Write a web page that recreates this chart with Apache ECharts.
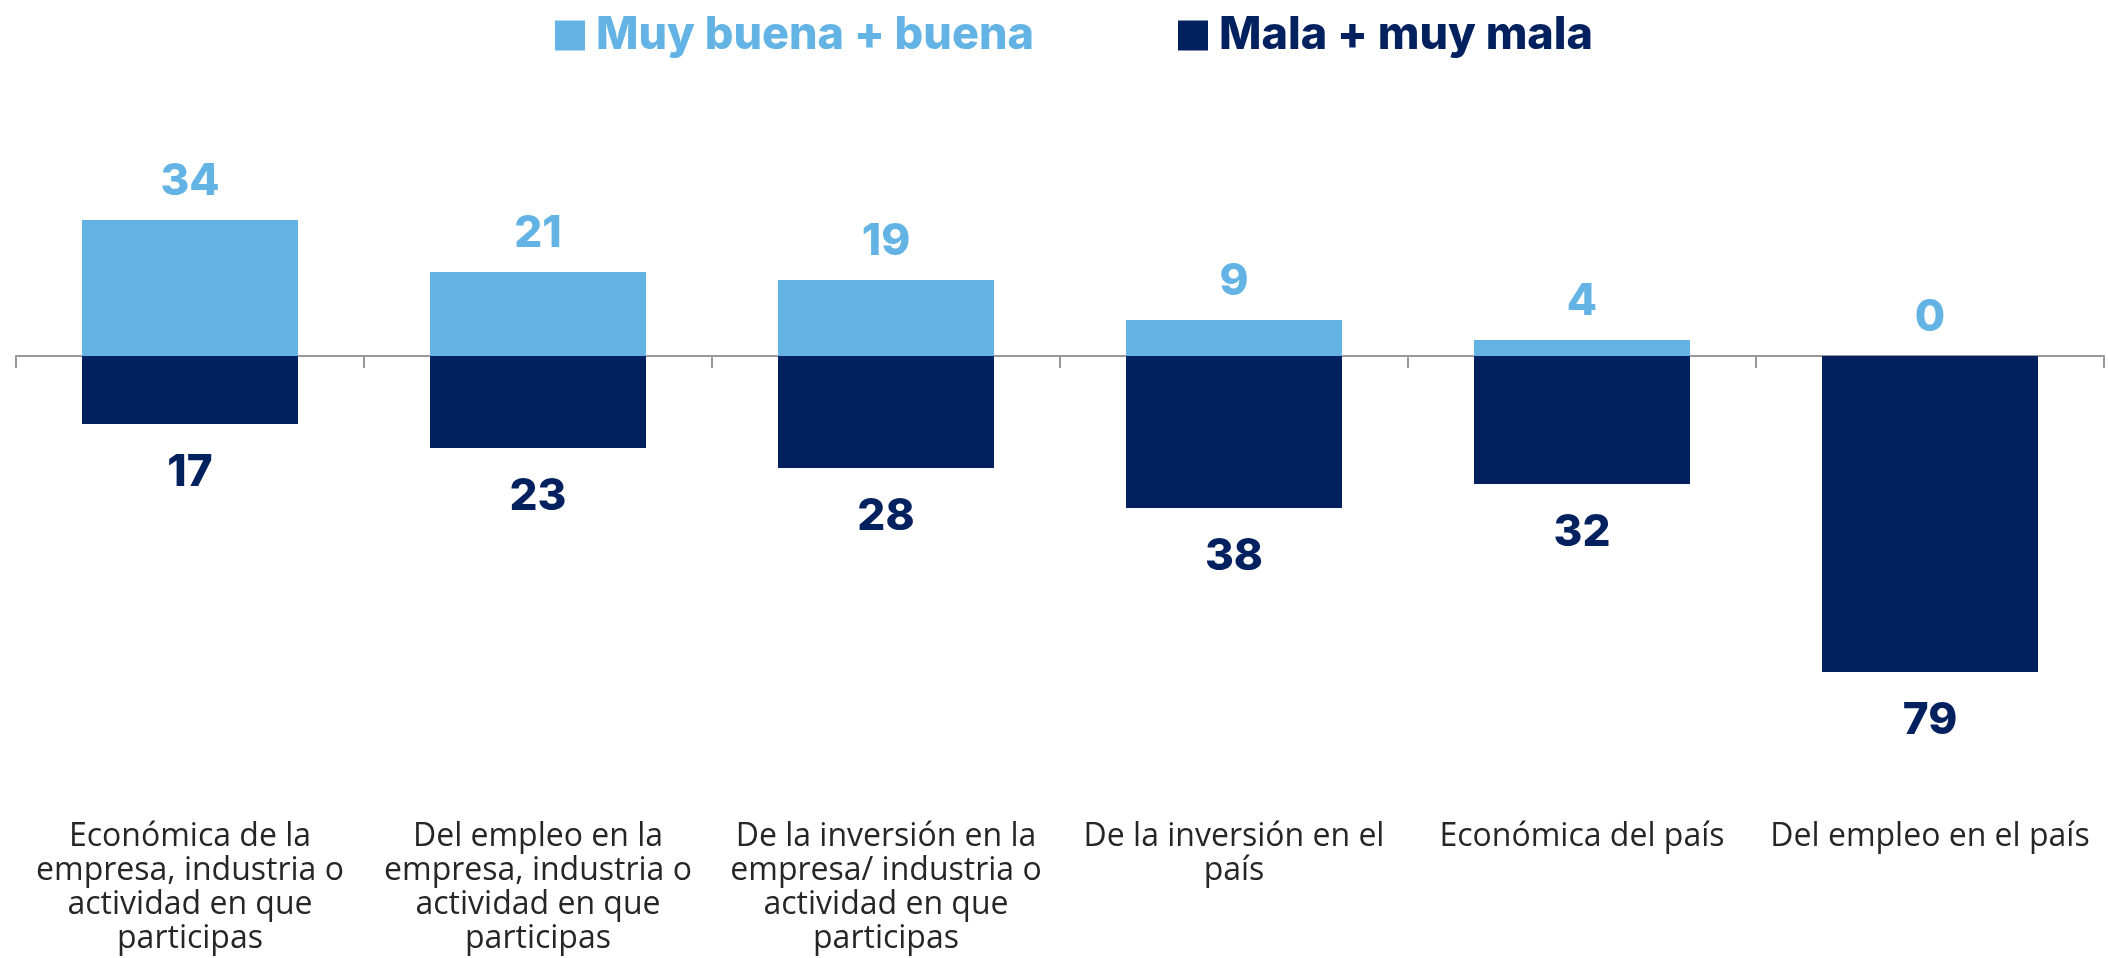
<!DOCTYPE html>
<html lang="es">
<head>
    <meta charset="UTF-8">
    <title>Percepción</title>
    <script src="https://cdn.jsdelivr.net/npm/echarts@6/dist/echarts.min.js"></script>
    <style>
        html, body { margin: 0; padding: 0; background: #fff; }
    </style>
</head>
<body>

<div id="app" style="width: 2108px;height: 958px"></div>

<script>
    // categorias (con saltos de linea como en el original)
    var categorias = [
        'Económica de la\nempresa, industria o\nactividad en que\nparticipas',
        'Del empleo en la\nempresa, industria o\nactividad en que\nparticipas',
        'De la inversión en la\nempresa/ industria o\nactividad en que\nparticipas',
        'De la inversión en el\npaís',
        'Económica del país',
        'Del empleo en el país'
    ];
    var buena = [34, 21, 19, 9, 4, 0];
    var mala = [17, 23, 28, 38, 32, 79];

    var colorBuena = '#63B4E4';
    var colorMala = '#03205F';

    var myChart = echarts.init(document.getElementById('app'));

    var option = {
        animation: false,
        legend: {
            top: 8,
            left: 550,
            itemWidth: 30,
            itemHeight: 30,
            itemGap: 144,
            icon: 'rect',
            textStyle: {
                fontFamily: 'Inter',
                fontWeight: 800,
                fontSize: 45,
                padding: [0, 0, 0, 6]
            },
            data: [
                { name: 'Muy buena + buena', textStyle: { color: colorBuena } },
                { name: 'Mala + muy mala', textStyle: { color: colorMala } }
            ]
        },
        grid: {
            left: 16,
            right: 4,
            top: 196,
            bottom: 242,
            outerBoundsMode: 'none'
        },
        xAxis: [
            {
                // eje en cero: linea y marcas
                type: 'category',
                data: categorias,
                axisLine: { onZero: true, lineStyle: { color: '#999', width: 2 } },
                axisTick: { show: true, length: 12, lineStyle: { color: '#999', width: 2 } },
                axisLabel: { show: false }
            },
            {
                // solo etiquetas abajo
                type: 'category',
                data: categorias,
                position: 'bottom',
                axisLine: { show: false, onZero: false },
                axisTick: { show: false },
                axisLabel: {
                    margin: 104,
                    interval: 0,
                    fontFamily: 'Open Sans',
                    fontSize: 32,
                    lineHeight: 34,
                    color: '#262626'
                }
            }
        ],
        yAxis: {
            type: 'value',
            min: -90,
            max: 40,
            show: false,
            splitLine: { show: false }
        },
        series: [
            {
                name: 'Muy buena + buena',
                type: 'bar',
                barWidth: 216,
                barGap: '-100%',
                itemStyle: { color: colorBuena },
                label: {
                    show: true,
                    position: 'top',
                    distance: 16,
                    fontFamily: 'Inter',
                    fontWeight: 800,
                    fontSize: 44,
                    color: colorBuena
                },
                data: buena
            },
            {
                name: 'Mala + muy mala',
                type: 'bar',
                barWidth: 216,
                barGap: '-100%',
                itemStyle: { color: colorMala },
                label: {
                    show: true,
                    position: 'bottom',
                    distance: 27,
                    fontFamily: 'Inter',
                    fontWeight: 800,
                    fontSize: 44,
                    color: colorMala,
                    formatter: function (p) { return Math.abs(p.value); }
                },
                data: mala.map(function (v) { return -v; })
            }
        ]
    };

    myChart.setOption(option);
</script>

</body>
</html>
